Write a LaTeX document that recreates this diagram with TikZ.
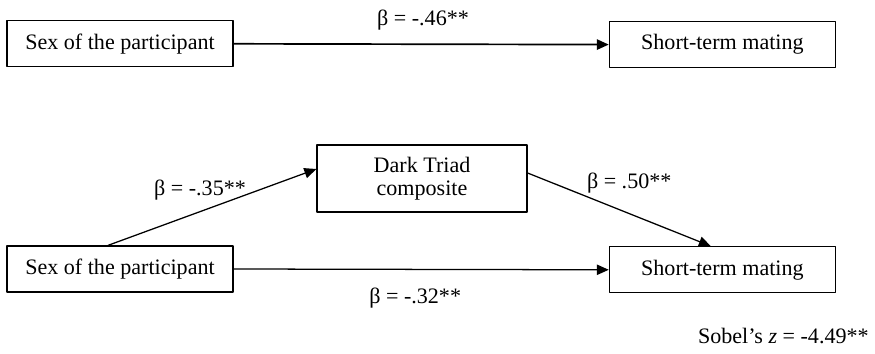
\documentclass[tikz,border=0pt]{standalone}
\usepackage{fontspec}
\setmainfont{Liberation Serif}
\usetikzlibrary{arrows.meta}
\tikzset{box/.style={draw,line width=0.9pt,minimum width=5.65cm,minimum height=1.15cm,inner sep=0pt}}
\begin{document}
\begin{tikzpicture}[line join=round,font=\fontsize{15.7}{18}\selectfont,>={Triangle[length=0.3cm,width=0.26cm]},line width=0.9pt]
		\useasboundingbox (0,0) rectangle (21.875,8.825);
		% model without the mediator
		\node[box] (sexA) at (3.0,7.73) {Sex of the participant};
		\node[box] (stmA) at (18.06,7.71) {Short-term mating};
		\draw[->,line width=1.2pt] (sexA.east)--(stmA.west);
		\node (bA) at (10.575,8.33) {β = -.46**};
		% model with the mediator
		\node[box] (sexB) at (3.0,2.1) {Sex of the participant};
		\node[box] (stmB) at (18.06,2.08) {Short-term mating};
		\node[box,minimum width=5.25cm,minimum height=1.675cm,align=center] (dark) at (10.55,4.36) {Dark Triad\\[-2pt]composite};
		\draw[->] ([xshift=-0.3cm]sexB.north)--([yshift=0.24cm]dark.west);
		\draw[->] ([yshift=0.14cm]dark.east)--([xshift=-0.29cm]stmB.north);
		\draw[->] (sexB.east)--(stmB.west);
		\node (bB) at (5.0,4.08) {β = -.35**};
		\node (bC) at (15.73,4.25) {β = .50**};
		\node (bD) at (10.38,1.38) {β = -.32**};
		\node[anchor=east] (sobel) at (21.85,0.42) {Sobel’s \textit{z} = -4.49**};
	\end{tikzpicture}
\end{document}
